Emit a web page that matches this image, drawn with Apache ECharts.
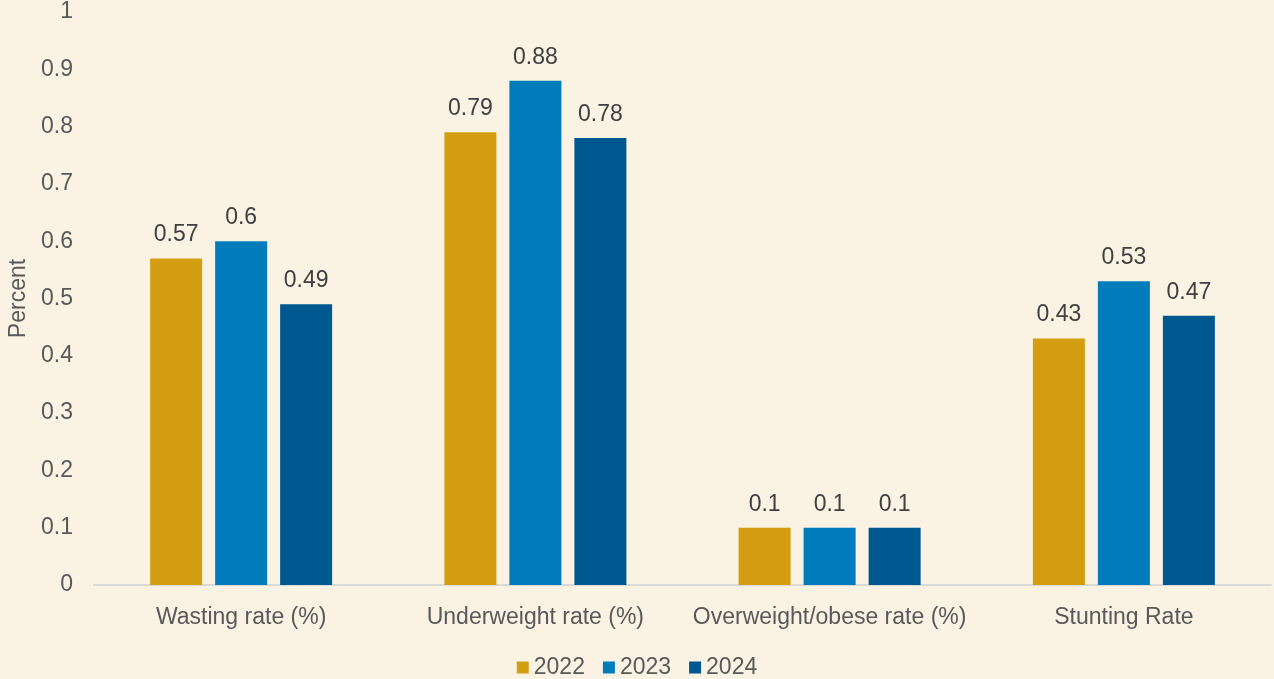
<!DOCTYPE html>
<html><head><meta charset="utf-8">
<script src="https://cdn.jsdelivr.net/npm/echarts@6/dist/echarts.min.js"></script>
<style>html,body{margin:0;padding:0;background:#FAF2E3;}#c{width:1274px;height:679px;}</style>
</head><body><div id="c"></div>
<script>
const categories = ['Wasting rate (%)', 'Underweight rate (%)', 'Overweight/obese rate (%)', 'Stunting Rate'];
const seriesNames = ['2022', '2023', '2024'];
const values2022 = [0.57, 0.79, 0.1, 0.43];
const values2023 = [0.6, 0.88, 0.1, 0.53];
const values2024 = [0.49, 0.78, 0.1, 0.47];
const colors = ['#D39E12', '#007CBA', '#005890'];
const allValues = [values2022, values2023, values2024];

const chart = echarts.init(document.getElementById('c'));
const font = 'Liberation Sans, Arial, sans-serif';
chart.setOption({
  backgroundColor: '#FAF2E3',
  textStyle: { fontFamily: font },
  grid: { left: 94, right: 3, top: 12, bottom: 94, outerBoundsMode: 'none', containLabel: false },
  legend: {
    top: 651, left: 'center', itemWidth: 12, itemHeight: 12, itemGap: 18,
    icon: 'rect',
    textStyle: { fontSize: 23, color: '#595959', fontFamily: font },
    data: seriesNames
  },
  xAxis: {
    type: 'category', data: categories,
    axisLine: { lineStyle: { color: '#D9D9D9', width: 2 } },
    axisTick: { show: false },
    axisLabel: { fontSize: 23, color: '#595959', margin: 21, interval: 0, fontFamily: font }
  },
  yAxis: {
    type: 'value', min: 0, max: 1, interval: 0.1,
    name: 'Percent', nameLocation: 'middle', nameGap: 63,
    nameTextStyle: { fontSize: 23, color: '#595959', fontFamily: font },
    splitLine: { show: false },
    axisLine: { show: false }, axisTick: { show: false },
    axisLabel: { fontSize: 23, color: '#595959', margin: 21, fontFamily: font,
      formatter: v => String(Math.round(v * 10) / 10) }
  },
  series: seriesNames.map((n, i) => ({
    name: n, type: 'bar', data: allValues[i],
    barWidth: 52, barGap: '25%',
    itemStyle: { color: colors[i] },
    label: { show: true, position: 'top', distance: 12, fontSize: 23, color: '#404040', fontFamily: font }
  }))
});
</script></body></html>
